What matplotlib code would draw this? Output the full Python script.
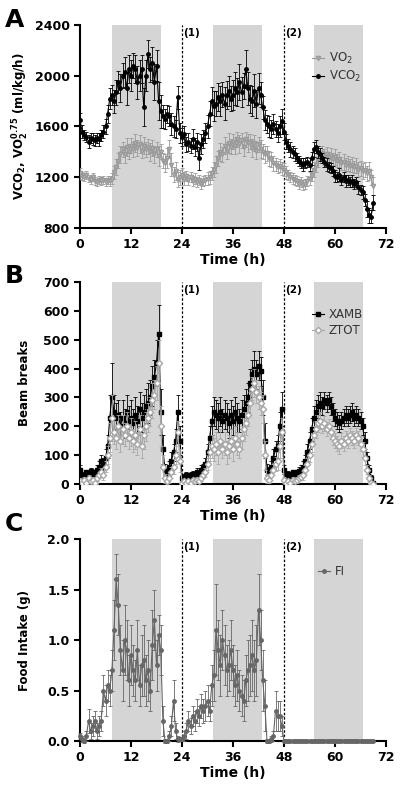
import numpy as np
import matplotlib.pyplot as plt

plt.rcParams['font.family'] = 'DejaVu Sans'
plt.rcParams['font.weight'] = 'bold'
plt.rcParams['axes.labelweight'] = 'bold'

# time in hours, one point every 30 min
t = np.arange(0, 69.5, 0.5)

# panel A: VCO2 and VO2 (ml/kg^0.75/h), mean and SEM
vco2 = [1650, 1560, 1530, 1520, 1480, 1510, 1500, 1490, 1510, 1500, 1530, 1560, 1600, 1700, 1820, 1850, 1800, 1870, 1950, 1900, 2000, 2030, 1900, 2050,
        2000, 2080, 2050, 1950, 2000, 2050, 1750, 2000, 2170, 2050, 2100, 1950, 2080, 1800, 1720, 1680, 1660, 1700, 1680, 1620, 1600, 1580, 1830, 1550,
        1520, 1540, 1460, 1480, 1450, 1500, 1440, 1480, 1350, 1460, 1500, 1550, 1600, 1700, 1800, 1760, 1780, 1830, 1800, 1850, 1780, 1850, 1880, 1820,
        1850, 1900, 1870, 1950, 1870, 1920, 2050, 1900, 1820, 1800, 1880, 1780, 1900, 1850, 1750, 1650, 1620, 1600, 1580, 1620, 1580, 1550, 1600, 1640,
        1560, 1480, 1450, 1420, 1400, 1380, 1350, 1330, 1310, 1300, 1310, 1320, 1300, 1350, 1420, 1440, 1400, 1380, 1350, 1320, 1300, 1280, 1270, 1250,
        1210, 1200, 1220, 1180, 1200, 1170, 1180, 1160, 1170, 1150, 1160, 1120, 1100, 1080, 1020, 950, 900, 890, 1000]
vco2_err = [60, 50, 40, 40, 50, 40, 45, 40, 40, 50, 45, 50, 60, 70, 80, 80, 90, 100, 90, 110, 100, 120, 130, 110,
            120, 100, 110, 130, 120, 110, 150, 120, 110, 100, 130, 140, 120, 150, 130, 90, 80, 70, 80, 90, 80, 70, 90, 80,
            70, 60, 60, 70, 60, 80, 70, 70, 90, 80, 70, 80, 90, 100, 110, 120, 100, 110, 120, 100, 130, 110, 120, 100,
            120, 130, 110, 140, 120, 100, 150, 130, 110, 120, 130, 110, 120, 100, 90, 80, 70, 80, 70, 80, 60, 70, 80, 100,
            70, 60, 50, 60, 50, 50, 40, 40, 40, 50, 40, 40, 50, 50, 60, 50, 50, 50, 40, 40, 50, 40, 40, 40,
            50, 40, 50, 40, 40, 50, 40, 40, 50, 40, 40, 50, 40, 50, 50, 60, 60, 50, 60]
vo2 = [1230, 1210, 1200, 1220, 1190, 1180, 1200, 1170, 1160, 1180, 1170, 1180, 1160, 1180, 1170, 1190, 1240, 1280, 1330, 1380, 1420, 1380, 1440, 1400,
       1450, 1420, 1470, 1430, 1460, 1410, 1450, 1420, 1440, 1400, 1430, 1380, 1420, 1370, 1400, 1330, 1310, 1350, 1420, 1300, 1220, 1250, 1180, 1200,
       1220, 1190, 1210, 1180, 1200, 1170, 1190, 1160, 1180, 1150, 1170, 1180, 1190, 1200, 1230, 1260, 1300, 1350, 1400, 1380, 1450, 1410, 1470, 1440,
       1480, 1450, 1500, 1460, 1490, 1440, 1500, 1470, 1480, 1430, 1470, 1410, 1460, 1420, 1400, 1380, 1390, 1350, 1340, 1310, 1300, 1280, 1290, 1270,
       1260, 1240, 1220, 1200, 1190, 1180, 1170, 1150, 1160, 1140, 1150, 1170, 1190, 1220, 1260, 1300, 1340, 1370, 1390, 1360, 1380, 1350, 1370, 1340,
       1360, 1330, 1340, 1310, 1320, 1300, 1310, 1290, 1300, 1280, 1290, 1260, 1270, 1250, 1260, 1230, 1250, 1200, 1130]
vo2_err = [40, 30, 30, 30, 30, 30, 30, 30, 30, 30, 30, 30, 30, 30, 40, 40, 50, 60, 60, 70, 60, 70, 70, 60,
           60, 60, 70, 60, 70, 60, 70, 60, 60, 70, 60, 70, 60, 80, 60, 60, 70, 80, 70, 90, 60, 70, 60, 60,
           50, 50, 40, 40, 40, 40, 40, 40, 40, 40, 40, 40, 50, 50, 50, 60, 70, 60, 70, 60, 70, 70, 80, 60,
           60, 70, 60, 70, 60, 70, 60, 70, 60, 70, 60, 70, 60, 70, 60, 70, 60, 60, 60, 60, 50, 50, 50, 50,
           50, 50, 40, 40, 40, 40, 40, 40, 40, 40, 40, 40, 50, 50, 60, 60, 60, 60, 60, 60, 60, 50, 60, 50,
           60, 50, 60, 50, 60, 50, 60, 50, 60, 50, 60, 60, 60, 60, 60, 60, 70, 60, 70]

# panel B: beam breaks
xamb = [50, 30, 25, 40, 30, 45, 35, 40, 50, 60, 80, 70, 90, 130, 230, 300, 250, 230, 240, 200, 230, 210, 250, 220,
        230, 210, 240, 220, 260, 230, 250, 270, 280, 300, 340, 370, 420, 520, 250, 120, 50, 40, 60, 80, 110, 150, 250, 150,
        20, 25, 30, 25, 30, 35, 30, 40, 35, 50, 55, 70, 110, 160, 220, 250, 240, 230, 250, 220, 240, 230, 210, 240,
        220, 250, 230, 220, 240, 260, 280, 300, 350, 380, 400, 380, 410, 390, 300, 150, 50, 40, 60, 90, 120, 130, 200, 260,
        50, 30, 35, 30, 40, 35, 40, 45, 50, 60, 80, 110, 150, 190, 230, 250, 270, 280, 270, 290, 280, 290, 270, 250,
        230, 220, 210, 220, 230, 240, 230, 240, 250, 230, 240, 230, 220, 200, 150, 90, 50, 20, 5]
xamb_err = [15, 10, 10, 10, 10, 10, 10, 10, 15, 20, 20, 20, 30, 40, 80, 120, 60, 50, 50, 50, 60, 50, 60, 50,
            60, 50, 60, 50, 60, 50, 60, 60, 70, 60, 70, 60, 80, 100, 80, 50, 20, 20, 20, 30, 30, 40, 60, 50,
            10, 10, 10, 10, 10, 10, 10, 15, 10, 15, 15, 20, 30, 40, 50, 50, 50, 50, 50, 40, 50, 50, 50, 50,
            50, 50, 50, 40, 50, 50, 50, 50, 50, 50, 60, 50, 50, 50, 60, 60, 20, 20, 20, 30, 30, 40, 50, 60,
            15, 10, 10, 10, 10, 10, 10, 15, 15, 20, 20, 30, 30, 40, 40, 40, 40, 40, 30, 30, 30, 30, 30, 30,
            30, 30, 30, 30, 30, 30, 30, 30, 30, 30, 30, 30, 30, 30, 30, 20, 15, 10, 5]
ztot = [10, 5, 15, 5, 20, 10, 15, 5, 20, 30, 40, 30, 60, 100, 160, 230, 180, 160, 200, 150, 190, 170, 200, 160,
        180, 150, 170, 140, 190, 130, 170, 200, 230, 250, 290, 310, 350, 420, 200, 60, 20, 10, 20, 40, 60, 100, 180, 80,
        5, 10, 5, 10, 5, 15, 10, 15, 10, 20, 30, 40, 70, 110, 130, 120, 140, 110, 150, 120, 140, 110, 130, 150,
        120, 160, 140, 120, 160, 190, 210, 240, 280, 330, 350, 320, 300, 280, 260, 100, 20, 15, 30, 50, 70, 80, 130, 180,
        15, 5, 10, 5, 15, 10, 15, 20, 25, 30, 50, 70, 100, 140, 170, 190, 210, 220, 200, 210, 190, 200, 180, 160,
        150, 140, 130, 150, 140, 160, 150, 170, 160, 150, 170, 160, 140, 120, 90, 50, 20, 5, 0]
ztot_err = [10, 5, 10, 5, 10, 5, 10, 5, 10, 10, 15, 15, 20, 30, 50, 80, 40, 40, 40, 40, 50, 40, 50, 40,
            50, 40, 50, 40, 50, 40, 50, 50, 50, 50, 60, 50, 60, 80, 70, 40, 15, 10, 15, 20, 25, 30, 40, 40,
            5, 5, 5, 5, 5, 5, 5, 10, 5, 10, 10, 15, 20, 30, 40, 40, 40, 40, 40, 30, 40, 40, 40, 40,
            40, 40, 40, 30, 40, 40, 40, 40, 40, 40, 50, 40, 40, 40, 50, 50, 15, 10, 15, 20, 25, 30, 40, 50,
            10, 5, 5, 5, 10, 5, 10, 10, 10, 15, 15, 20, 25, 30, 30, 30, 30, 30, 25, 25, 25, 25, 25, 25,
            25, 25, 25, 25, 25, 25, 25, 25, 25, 25, 25, 25, 25, 25, 25, 15, 10, 5, 5]

# panel C: food intake (g)
fi = [0.05, 0.02, 0.0, 0.05, 0.2, 0.1, 0.15, 0.2, 0.1, 0.15, 0.2, 0.5, 0.4, 0.55, 0.5, 0.7, 1.1, 1.6, 1.35, 0.9, 0.7, 1.0, 0.9, 0.6,
      0.85, 0.7, 0.6, 0.9, 0.55, 0.75, 0.8, 0.6, 0.7, 0.5, 0.95, 1.2, 0.75, 1.05, 0.9, 0.2, 0.0, 0.0, 0.05, 0.15, 0.4, 0.1, 0.02, 0.02,
      0.02, 0.05, 0.1, 0.2, 0.15, 0.25, 0.2, 0.3, 0.25, 0.35, 0.3, 0.35, 0.4, 0.3, 0.55, 0.65, 1.1, 0.9, 0.75, 1.0, 0.85, 0.7, 0.75, 0.9,
      0.7, 0.55, 0.65, 0.5, 0.45, 0.4, 0.6, 0.7, 0.75, 0.85, 0.7, 0.8, 1.3, 1.0, 0.6, 0.35, 0.0, 0.0, 0.02, 0.05, 0.3, 0.25, 0.25, 0.15,
      0, 0, 0, 0, 0, 0, 0, 0, 0, 0, 0, 0, 0, 0, 0, 0, 0, 0, 0, 0, 0, 0, 0, 0,
      0, 0, 0, 0, 0, 0, 0, 0, 0, 0, 0, 0, 0, 0, 0, 0, 0, 0, 0]
fi_err = [0.03, 0.03, 0.02, 0.05, 0.12, 0.08, 0.1, 0.1, 0.08, 0.1, 0.1, 0.15, 0.15, 0.15, 0.15, 0.2, 0.3, 0.25, 0.3, 0.25, 0.3, 0.35, 0.3, 0.25,
          0.3, 0.25, 0.2, 0.3, 0.2, 0.3, 0.35, 0.25, 0.3, 0.2, 0.35, 0.3, 0.25, 0.2, 0.25, 0.15, 0.02, 0.02, 0.05, 0.1, 0.2, 0.08, 0.03, 0.02,
          0.02, 0.05, 0.08, 0.1, 0.08, 0.1, 0.1, 0.12, 0.1, 0.12, 0.12, 0.15, 0.15, 0.1, 0.2, 0.25, 0.45, 0.3, 0.3, 0.3, 0.3, 0.25, 0.25, 0.3,
          0.25, 0.2, 0.25, 0.2, 0.2, 0.2, 0.25, 0.3, 0.3, 0.35, 0.3, 0.35, 0.35, 0.3, 0.3, 0.25, 0.02, 0.02, 0.03, 0.05, 0.2, 0.15, 0.15, 0.1,
          0, 0, 0, 0, 0, 0, 0, 0, 0, 0, 0, 0, 0, 0, 0, 0, 0, 0, 0, 0, 0, 0, 0, 0,
          0, 0, 0, 0, 0, 0, 0, 0, 0, 0, 0, 0, 0, 0, 0, 0, 0, 0, 0]

dark_phases = [(7.5, 19), (31.25, 42.75), (55, 66.5)]
events = [(24, '(1)'), (48, '(2)')]


def style(ax, ylim, yticks, ylabel):
    for a, b in dark_phases:
        ax.axvspan(a, b, color='#d5d5d5', lw=0, zorder=0)
    for x, lab in events:
        ax.axvline(x, color='k', ls=(0, (2, 1.5)), lw=0.9, zorder=1)
        ax.text(x + 0.2, 0.985, lab, transform=ax.get_xaxis_transform(),
                fontsize=7.5, fontweight='bold', va='top', ha='left')
    ax.set_xlim(0, 72)
    ax.set_xticks(range(0, 73, 12))
    ax.set_ylim(*ylim)
    ax.set_yticks(yticks)
    ax.spines['top'].set_visible(False)
    ax.spines['right'].set_visible(False)
    ax.spines['left'].set_linewidth(1.5)
    ax.spines['bottom'].set_linewidth(1.5)
    ax.tick_params(direction='out', width=1.5, length=4, labelsize=9)
    ax.set_xlabel('Time (h)', fontsize=10, labelpad=1)
    ax.set_ylabel(ylabel, fontsize=8.5)
    ax.yaxis.set_label_coords(-0.16, 0.5)


def legend(ax, containers, labels, x):
    # only line + marker in the key, no error caps
    ax.legend([c[0] for c in containers], labels, loc='upper left',
              bbox_to_anchor=(x, 0.9), frameon=False,
              prop={'size': 8.5, 'weight': 'normal'}, labelcolor='#333333',
              handlelength=1.0, handletextpad=0.4, labelspacing=0.25, borderpad=0)


fig = plt.figure(figsize=(4, 7.87), dpi=100)
axA = fig.add_axes([0.2, 0.7103, 0.765, 0.258])
axB = fig.add_axes([0.2, 0.385, 0.765, 0.2567])
axC = fig.add_axes([0.2, 0.0584, 0.765, 0.2567])

eb = dict(lw=0.8, elinewidth=0.6, capsize=1.5, capthick=0.6)

# A
c1 = axA.errorbar(t, vo2, yerr=vo2_err, fmt='-v', color='#9a9a9a', mfc='#b5b5b5', mec='#9a9a9a',
                  ms=3, zorder=3, **eb)
c2 = axA.errorbar(t, vco2, yerr=vco2_err, fmt='-o', color='k', ms=2.5, zorder=4, **eb)
style(axA, (800, 2400), [800, 1200, 1600, 2000, 2400],
      r'VCO$_\mathbf{2}$, VO$_\mathbf{2}^\mathbf{0.75}$ (ml/kg/h)')
legend(axA, [c1, c2], [r'VO$_\mathregular{2}$', r'VCO$_\mathregular{2}$'], 0.74)

# B
c3 = axB.errorbar(t, xamb, yerr=xamb_err, fmt='-s', color='k', ms=2.2, zorder=3, **eb)
c4 = axB.errorbar(t, ztot, yerr=ztot_err, fmt='-D', color='#a8a8a8', mfc='white', mec='#a8a8a8',
                  ms=3.2, zorder=4, **eb)
style(axB, (0, 700), range(0, 701, 100), 'Beam breaks')
legend(axB, [c3, c4], ['XAMB', 'ZTOT'], 0.74)

# C
c5 = axC.errorbar(t, fi, yerr=fi_err, fmt='-o', color='#666666', ms=2.5,
                  zorder=3, clip_on=False, **eb)
style(axC, (0, 2.0), [0.0, 0.5, 1.0, 1.5, 2.0], 'Food Intake (g)')
axC.yaxis.set_major_formatter(plt.FormatStrFormatter('%.1f'))
legend(axC, [c5], ['FI'], 0.76)

for lab, y in [('A', 0.99), ('B', 0.664), ('C', 0.35)]:
    fig.text(0.012, y, lab, fontsize=18, fontweight='bold', va='top')

fig.savefig('out.png', dpi=100)
